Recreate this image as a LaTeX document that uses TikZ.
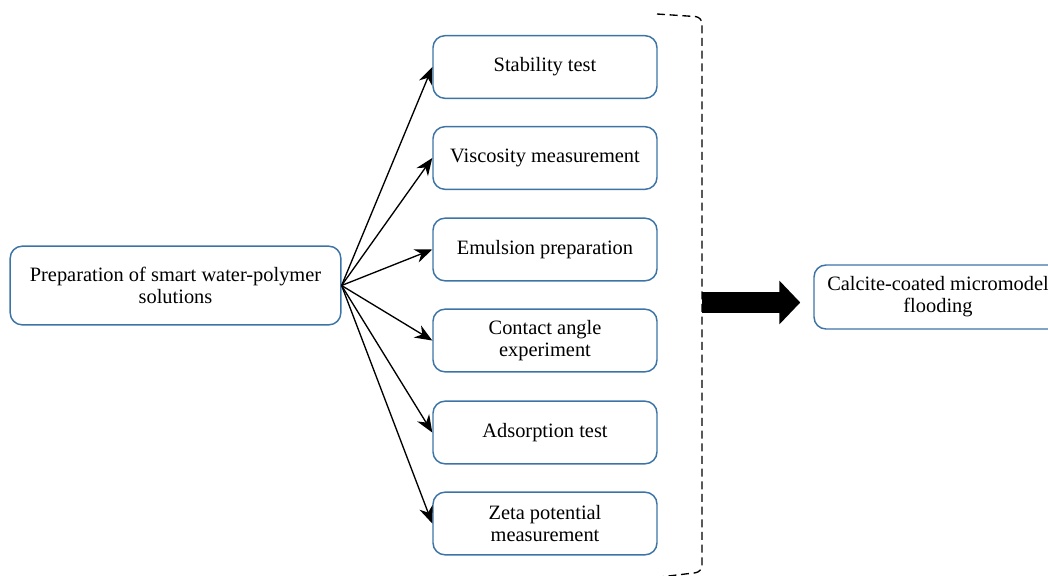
\documentclass[tikz,border=0pt]{standalone}
\usepackage{fontspec}
\setmainfont{Liberation Serif}
\usetikzlibrary{arrows.meta}
\definecolor{boxblue}{HTML}{3D74A6}
\begin{document}
\begin{tikzpicture}[x=0.75pt,y=-0.75pt,
  box/.style={draw=boxblue, line width=1.1pt, rounded corners=9pt, fill=white, align=center,
    font=\fontsize{15.3}{16.5}\selectfont, inner sep=0pt},
  midbox/.style={box, minimum width=168pt, minimum height=47pt},
  link/.style={-{Stealth[length=13pt,width=10.5pt]}, line width=1pt},
  bracket/.style={dashed, dash pattern=on 6pt off 3.5pt, line width=1pt, rounded corners=5pt},
  bigarrow/.style={line width=16pt, -{Triangle[length=15.75pt,width=32pt]}, shorten >=9.75pt}]
\clip (0,0) rectangle (1048,575);
\node[box, minimum width=248pt, minimum height=59pt] (prep) at (175.5,285.5) {Preparation of smart water-polymer\\solutions};
\node[midbox] (m1) at (545,67) {Stability test};
\node[midbox] (m2) at (545,158) {Viscosity measurement};
\node[midbox] (m3) at (545,249.5) {Emulsion preparation};
\node[midbox] (m4) at (545,340.5) {Contact angle\\experiment};
\node[midbox] (m5) at (545,432.5) {Adsorption test};
\node[midbox] (m6) at (545,523.5) {Zeta potential\\measurement};
\node[box, minimum width=186pt, minimum height=48pt] (flood) at (938,297) {Calcite-coated micromodel\\flooding};
\foreach \i in {1,...,6} \draw[link] (prep.east) -- (m\i.west);
\draw[bracket] (657,14) -- (702,17) -- (702,572) -- (660,577);
\coordinate (brk) at (702,302.5);
\draw[bigarrow] (brk) -- (flood.west |- brk);
\end{tikzpicture}
\end{document}
